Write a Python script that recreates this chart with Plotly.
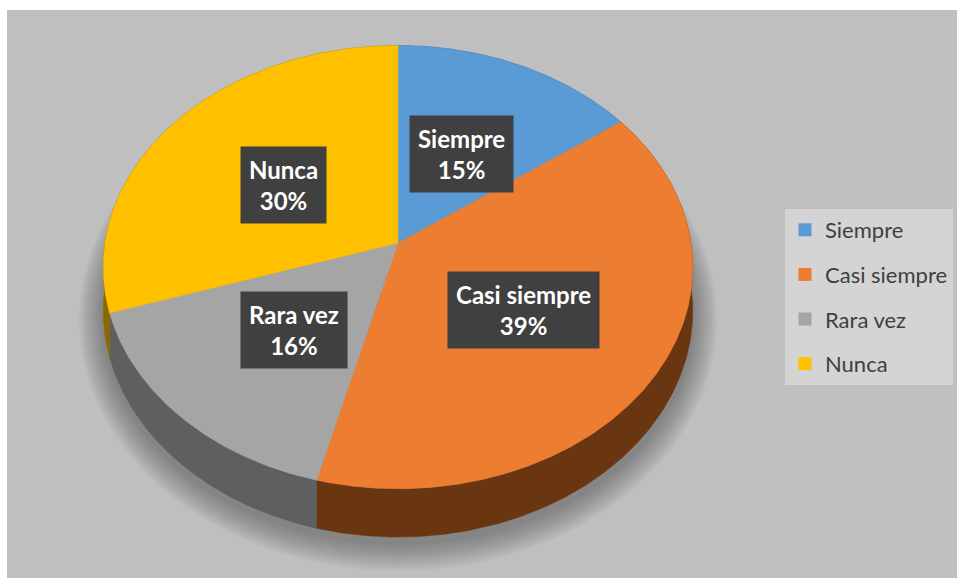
import numpy as np
import plotly.graph_objects as go

# ---- data ----
categories = ["Siempre", "Casi siempre", "Rara vez", "Nunca"]
values = [15, 39, 16, 30]
top_colors = ["#5b9bd5", "#ed7d31", "#a5a5a5", "#ffc000"]
side_colors = ["#2e5c88", "#6a3511", "#5f5f5f", "#8a6800"]

# ---- geometry of the tilted (3D-look) pie, in pixel units ----
W, H = 957, 578
CX, CY = 398, 243
RX, RY = 293, 219
K = 0.109          # perspective strength
DEPTH = 43         # thickness of the pie


def project(theta_deg, r=1.0):
    t = np.radians(theta_deg)
    u = r * np.sin(t)
    v = -r * np.cos(t)
    s = 1.0 / (1.0 - K * v)
    return CX + RX * u * s, CY + RY * v * s, s


total = float(sum(values))
bounds = [0.0]
for val in values:
    bounds.append(bounds[-1] + 360.0 * val / total)

fig = go.Figure()

# soft shadow under the pie
th_all = np.linspace(0, 360, 361)
bx, by, bs = project(th_all)
by = by + DEPTH * bs
for i, e in enumerate(np.linspace(24, 2, 10)):
    sx = CX + (bx - CX) * (1 + e / RX)
    sy = (CY + DEPTH + 6) + (by - CY - DEPTH) * (1 + e / RY)
    fig.add_trace(go.Scatter(x=sx, y=sy, mode="lines", fill="toself",
                             fillcolor="rgba(60,60,60,0.05)",
                             line=dict(width=0), hoverinfo="skip",
                             showlegend=False))

# side walls
for i, cat in enumerate(categories):
    a, b = bounds[i], bounds[i + 1]
    th = np.linspace(a, b, max(3, int((b - a) * 2)))
    x, y, s = project(th)
    xs = np.concatenate([x, x[::-1], [x[0]]])
    ys = np.concatenate([y, (y + DEPTH * s)[::-1], [y[0]]])
    fig.add_trace(go.Scatter(x=xs, y=ys, mode="lines", fill="toself",
                             fillcolor=side_colors[i],
                             line=dict(width=0.5, color=side_colors[i]),
                             legendgroup=cat, showlegend=False,
                             hoverinfo="skip"))

# top faces
for i, cat in enumerate(categories):
    a, b = bounds[i], bounds[i + 1]
    th = np.linspace(a, b, max(3, int((b - a) * 2)))
    x, y, _ = project(th)
    xs = np.concatenate([[CX], x, [CX]])
    ys = np.concatenate([[CY], y, [CY]])
    fig.add_trace(go.Scatter(x=xs, y=ys, mode="lines", fill="toself",
                             fillcolor=top_colors[i],
                             line=dict(width=0.5, color=top_colors[i]),
                             legendgroup=cat, showlegend=False,
                             name=cat,
                             hovertemplate=f"{cat}: {values[i]}%<extra></extra>"))

# legend entries
for i, cat in enumerate(categories):
    fig.add_trace(go.Scatter(x=[None], y=[None], mode="markers", name=cat,
                             marker=dict(symbol="square", size=13,
                                         color=top_colors[i]),
                             legendgroup=cat, showlegend=True))

# data labels
for i, cat in enumerate(categories):
    mid = (bounds[i] + bounds[i + 1]) / 2
    lx, ly, _ = project(mid, 0.5)
    pct = round(100 * values[i] / total)
    fig.add_annotation(x=lx, y=ly, xref="x", yref="y", yshift=-4,
                       text=f"<b>{cat}<br>{pct}%</b>", showarrow=False,
                       font=dict(family="Lato", size=24, color="white"),
                       bgcolor="#404040", borderpad=8, align="center")

fig.update_layout(
    width=W, height=H,
    margin=dict(l=0, r=0, t=0, b=0),
    paper_bgcolor="white",
    plot_bgcolor="rgba(0,0,0,0)",
    xaxis=dict(range=[0, W], visible=False, fixedrange=True),
    yaxis=dict(range=[H, 0], visible=False, fixedrange=True),
    shapes=[dict(type="rect", xref="x", yref="y", x0=7, y0=10, x1=W, y1=H,
                 fillcolor="#bfbfbf", line=dict(width=0), layer="below")],
    showlegend=True,
    legend=dict(x=785 / W, y=1 - 209 / H, xanchor="left", yanchor="top",
                bgcolor="#d4d4d4", font=dict(family="Lato", size=22,
                                             color="#404040"),
                tracegroupgap=13, itemclick=False, itemdoubleclick=False),
    font=dict(family="Lato"),
)

fig.write_html("out.html")
